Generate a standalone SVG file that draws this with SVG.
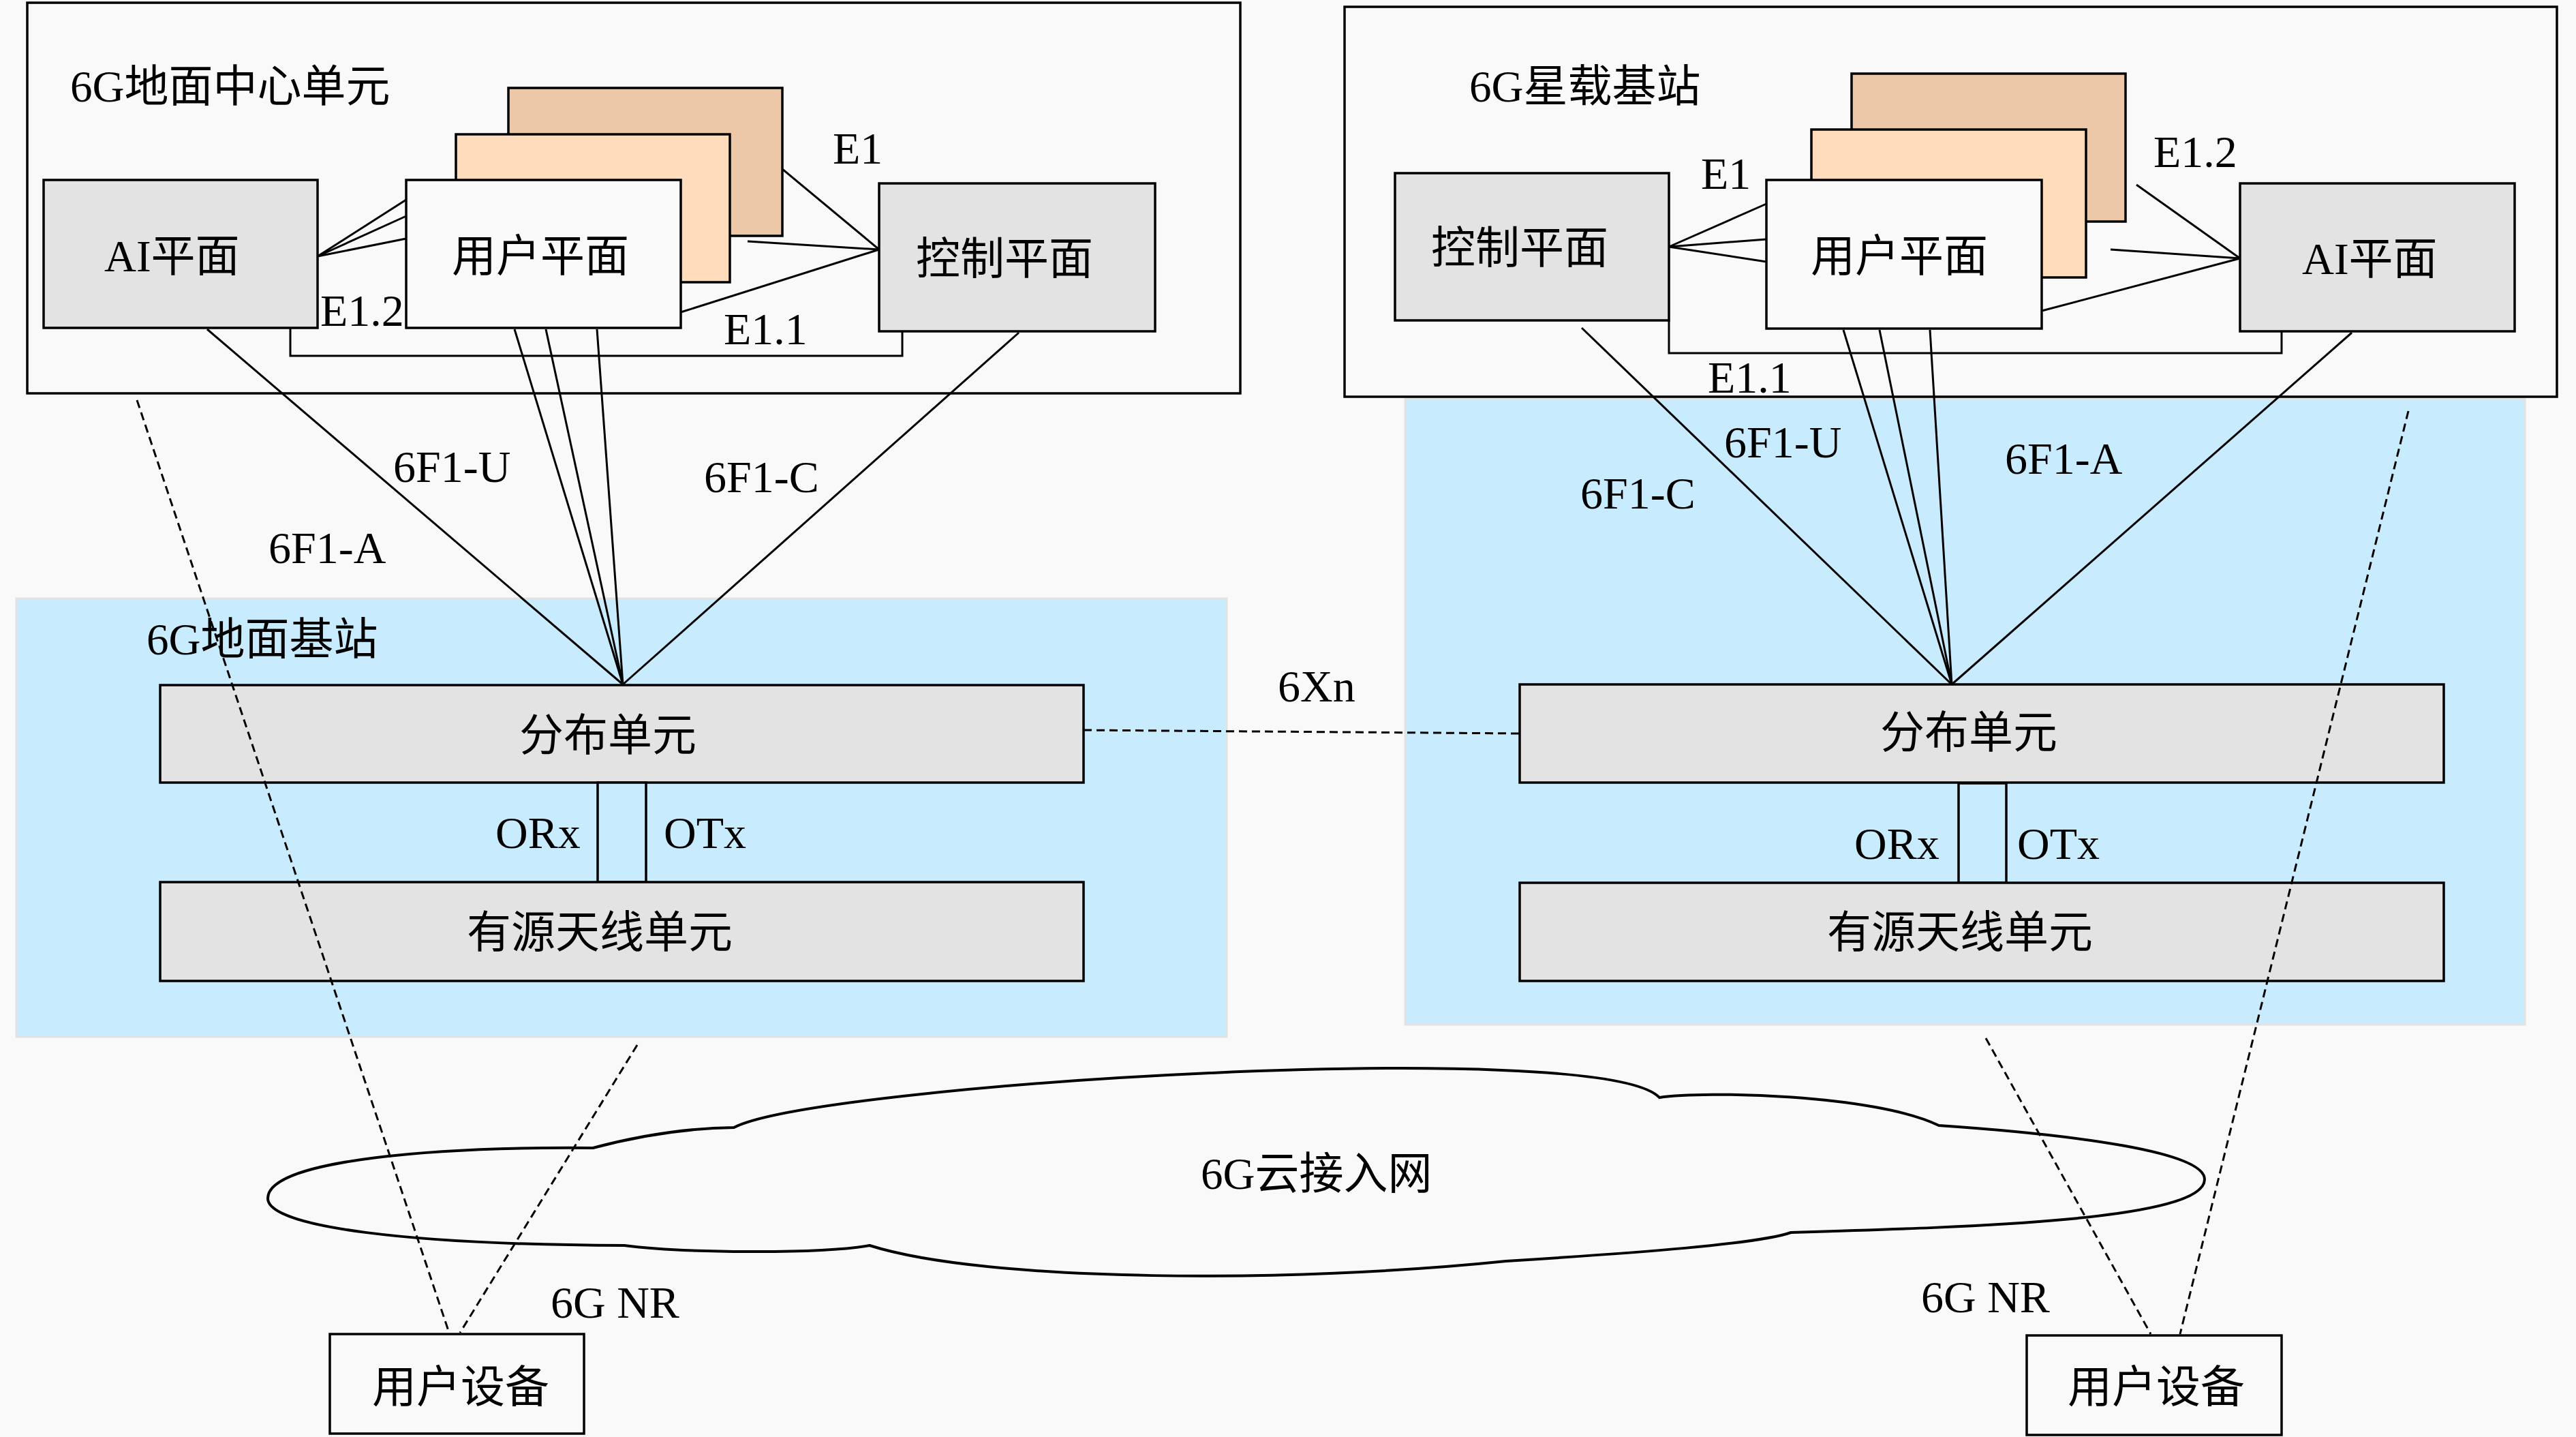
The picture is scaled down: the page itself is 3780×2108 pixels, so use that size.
<svg xmlns="http://www.w3.org/2000/svg" width="3780" height="2108" viewBox="0 0 3780 2108">
<style>
text{font-family:"Liberation Serif","Noto Sans CJK SC",serif;fill:#000;font-size:66px}
.cjk{font-size:65px}
.box{stroke:#000;stroke-width:3.5}
.gray{fill:#e3e3e3}
.frame{fill:#f9f9f9;stroke:#000;stroke-width:3.5}
.blue{fill:#c8ebfd;stroke:#e2e2e2;stroke-width:3}
.back{fill:#ecc8a8}
.mid{fill:#ffdcbc}
.front{fill:#fafafa}
.ln{stroke:#000;stroke-width:3;fill:none}
.dash{stroke:#000;stroke-width:3;fill:none;stroke-dasharray:12 7}
</style>
<rect x="0" y="0" width="3780" height="2108" fill="#f9f9f9"/>

<g id="ground-bs-area"><rect class="blue" x="24" y="878" width="1776" height="643"/><text class="cjk" x="215" y="960">6G地面基站</text></g>
<g id="sat-bs-area"><rect class="blue" x="2062" y="585" width="1643" height="918"/></g>

<g id="ground-cu"><rect class="frame" x="40" y="4" width="1780" height="573"/><text class="cjk" x="103" y="149">6G地面中心单元</text></g>
<g id="sat-bs"><rect class="frame" x="1973" y="10" width="1779" height="572"/><text class="cjk" x="2156" y="149">6G星载基站</text></g>

<g id="cloud"><path d="M916,1827 C600,1826 393,1800 393,1758 C393,1700 650,1682 870,1684 C930,1668 1000,1655 1077,1654 C1200,1590 2350,1520 2435,1610 C2500,1600 2750,1605 2845,1651 C3050,1665 3235,1690 3235,1730 C3235,1790 2900,1800 2628,1808 C2580,1825 2400,1838 2210,1850 C1900,1882 1450,1882 1276,1827 C1200,1840 1000,1838 916,1827 Z" fill="#f9f9f9" stroke="#000" stroke-width="4"/><text class="cjk" x="1762" y="1744">6G云接入网</text></g>

<g id="labels">
<text x="470" y="478">E1.2</text>
<text x="1222" y="240">E1</text>
<text x="1062" y="505">E1.1</text>
<text x="577" y="707">6F1-U</text>
<text x="394" y="826">6F1-A</text>
<text x="1033" y="722">6F1-C</text>
<text x="2496" y="277">E1</text>
<text x="3160" y="245">E1.2</text>
<text x="2506" y="576">E1.1</text>
<text x="2319" y="746">6F1-C</text>
<text x="2530" y="671">6F1-U</text>
<text x="2942" y="695">6F1-A</text>
<text x="1875" y="1029">6Xn</text>
<text x="808" y="1933">6G NR</text>
<text x="2819" y="1925">6G NR</text>
</g>

<g id="left-ai"><rect class="box gray" x="64" y="264" width="402" height="217"/><text class="cjk" x="153" y="398">AI平面</text></g>
<g id="left-up-stack">
<rect class="box back" x="746" y="129" width="402" height="217"/>
<rect class="box mid" x="669" y="197" width="402" height="217"/>
<rect class="box front" x="596" y="264" width="403" height="217"/>
<text class="cjk" x="663" y="398">用户平面</text>
</g>
<g id="left-cp"><rect class="box gray" x="1290" y="269" width="405" height="217"/><text class="cjk" x="1344" y="402">控制平面</text></g>

<g id="right-cp"><rect class="box gray" x="2047" y="254" width="402" height="216"/><text class="cjk" x="2100" y="386">控制平面</text></g>
<g id="right-up-stack">
<rect class="box back" x="2717" y="108" width="402" height="217"/>
<rect class="box mid" x="2658" y="190" width="403" height="217"/>
<rect class="box front" x="2592" y="264" width="404" height="218"/>
<text class="cjk" x="2657" y="398">用户平面</text>
</g>
<g id="right-ai"><rect class="box gray" x="3287" y="269" width="403" height="217"/><text class="cjk" x="3378" y="402">AI平面</text></g>

<g id="left-du"><rect class="box gray" x="235" y="1005" width="1355" height="143"/><text class="cjk" x="762" y="1101">分布单元</text></g>
<g id="left-link"><rect class="box" fill="#c8ebfd" x="877" y="1148" width="71" height="146"/><text x="727" y="1244">ORx</text><text x="974" y="1244">OTx</text></g>
<g id="left-aau"><rect class="box gray" x="235" y="1294" width="1355" height="145"/><text class="cjk" x="685" y="1390">有源天线单元</text></g>

<g id="right-du"><rect class="box gray" x="2230" y="1004" width="1356" height="144"/><text class="cjk" x="2759" y="1097">分布单元</text></g>
<g id="right-link"><rect class="box" fill="#c8ebfd" x="2874" y="1149" width="70" height="146"/><text x="2721" y="1260">ORx</text><text x="2960" y="1260">OTx</text></g>
<g id="right-aau"><rect class="box gray" x="2230" y="1295" width="1356" height="144"/><text class="cjk" x="2681" y="1390">有源天线单元</text></g>

<g id="left-ue"><rect class="box" fill="#f9f9f9" x="484" y="1957" width="373" height="146"/><text class="cjk" x="546" y="2057">用户设备</text></g>
<g id="right-ue"><rect class="box" fill="#f9f9f9" x="2974" y="1959" width="374" height="146"/><text class="cjk" x="3034" y="2057">用户设备</text></g>

<g id="connectors">
<line class="ln" x1="466" y1="376" x2="596" y2="293"/>
<line class="ln" x1="466" y1="376" x2="596" y2="317"/>
<line class="ln" x1="466" y1="376" x2="596" y2="350"/>
<polyline class="ln" points="426,481 426,522 1324,522 1324,486"/>
<line class="ln" x1="1148" y1="248" x2="1290" y2="366"/>
<line class="ln" x1="1097" y1="354" x2="1290" y2="366"/>
<line class="ln" x1="999" y1="458" x2="1290" y2="366"/>
<line class="ln" x1="304" y1="483" x2="914" y2="1004"/>
<line class="ln" x1="755" y1="483" x2="914" y2="1004"/>
<line class="ln" x1="801" y1="483" x2="914" y2="1004"/>
<line class="ln" x1="876" y1="483" x2="914" y2="1004"/>
<line class="ln" x1="1495" y1="488" x2="914" y2="1004"/>
<line class="ln" x1="2449" y1="362" x2="2592" y2="299"/>
<line class="ln" x1="2449" y1="362" x2="2592" y2="351"/>
<line class="ln" x1="2449" y1="362" x2="2592" y2="384"/>
<polyline class="ln" points="2449,470 2449,518 3348,518 3348,486"/>
<line class="ln" x1="3135" y1="271" x2="3287" y2="379"/>
<line class="ln" x1="3097" y1="366" x2="3287" y2="379"/>
<line class="ln" x1="2996" y1="456" x2="3287" y2="379"/>
<line class="ln" x1="2321" y1="481" x2="2864" y2="1004"/>
<line class="ln" x1="2705" y1="484" x2="2864" y2="1004"/>
<line class="ln" x1="2758" y1="484" x2="2864" y2="1004"/>
<line class="ln" x1="2832" y1="484" x2="2864" y2="1004"/>
<line class="ln" x1="3451" y1="488" x2="2864" y2="1004"/>
<line class="dash" x1="1590" y1="1071" x2="2230" y2="1076" stroke-dasharray="10 6"/>
<line class="dash" x1="201" y1="587" x2="659" y2="1955"/>
<line class="dash" x1="935" y1="1533" x2="675" y2="1955"/>
<line class="dash" x1="3534" y1="603" x2="3199" y2="1957"/>
<line class="dash" x1="2914" y1="1523" x2="3156" y2="1957"/>
</g>
</svg>
